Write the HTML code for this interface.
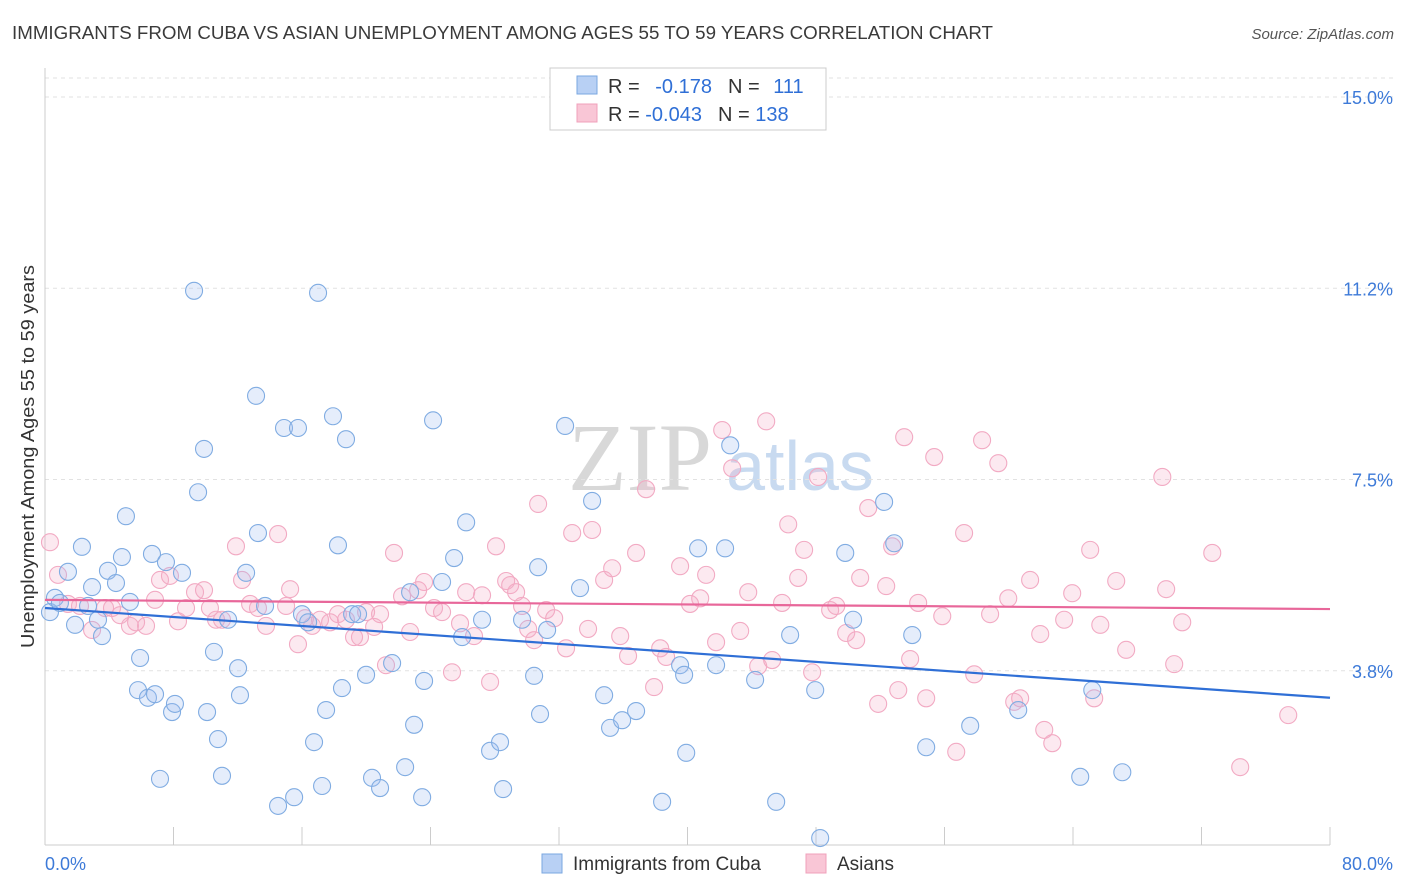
<!DOCTYPE html>
<html><head><meta charset="utf-8">
<style>
body{margin:0;background:#fff;font-family:"Liberation Sans",sans-serif;}
#wrap{position:relative;width:1406px;height:892px;overflow:hidden;}
</style></head>
<body><div id="wrap">
<svg id="chart" width="1406" height="892" xmlns="http://www.w3.org/2000/svg">
<text x="12" y="39" font-size="18" fill="#3a3a3a" textLength="981" lengthAdjust="spacingAndGlyphs">IMMIGRANTS FROM CUBA VS ASIAN UNEMPLOYMENT AMONG AGES 55 TO 59 YEARS CORRELATION CHART</text>
<text x="1394" y="39" font-size="15" fill="#555" text-anchor="end" font-style="italic">Source: ZipAtlas.com</text>
<text transform="translate(34,648) rotate(-90)" font-size="18" fill="#333" textLength="383" lengthAdjust="spacingAndGlyphs">Unemployment Among Ages 55 to 59 years</text>
<g>
<text x="640" y="490" font-size="96" fill="#d8d8d8" font-family="Liberation Serif,serif" text-anchor="middle">ZIP</text>
<text x="800" y="490" font-size="70" fill="#c8daf0" text-anchor="middle">atlas</text>
</g>
<g id="grid"></g><g id="axes"></g><g id="pts"></g><g id="trends"></g>
<g>
<rect x="550" y="68" width="276" height="62" fill="#fff" stroke="#ccc"/>
<rect x="577" y="76" width="20" height="18" fill="#b8d0f4" stroke="#7aa7e0"/>
<rect x="577" y="104" width="20" height="18" fill="#f9c6d6" stroke="#f0a0bb"/>
<text x="608" y="93" font-size="20" fill="#333">R = <tspan fill="#2f6fd6" dx="10">-0.178</tspan><tspan fill="#333" dx="16">N = </tspan><tspan fill="#2f6fd6" dx="8">111</tspan></text>
<text x="608" y="121" font-size="20" fill="#333">R = <tspan fill="#2f6fd6" dx="0">-0.043</tspan><tspan fill="#333" dx="16">N = </tspan><tspan fill="#2f6fd6" dx="0">138</tspan></text>
</g>
<g>
<rect x="542" y="854" width="20" height="19" fill="#b8d0f4" stroke="#7aa7e0"/>
<text x="573" y="870" font-size="19" fill="#333">Immigrants from Cuba</text>
<rect x="806" y="854" width="20" height="19" fill="#f9c6d6" stroke="#f0a0bb"/>
<text x="837" y="870" font-size="19" fill="#333">Asians</text>
</g>
</svg>
<script>
const yTicks=[3.75,7.5,11.25,15];
const yTickLabels=["3.8%","7.5%","11.2%","15.0%"];
const xTicks=[0,8,16,24,32,40,48,56,64,72,80];
const cubaX=[0.31,0.62,0.93,1.43,1.87,2.30,2.68,2.93,3.30,3.55,3.92,4.42,4.79,5.04,5.29,5.92,5.79,6.41,6.66,6.85,7.16,7.53,7.91,8.09,8.53,9.28,9.53,9.90,10.09,10.52,10.77,11.02,11.40,12.02,12.14,12.52,13.14,13.26,13.70,14.51,14.88,15.51,15.75,16.00,16.38,16.75,17.00,17.25,17.50,17.93,18.24,18.49,18.74,19.12,19.49,19.99,20.36,20.86,21.61,22.42,22.98,22.73,23.48,23.60,24.16,24.72,25.47,25.97,26.22,27.21,27.71,28.33,28.52,29.70,30.45,30.70,30.82,31.26,32.38,33.31,34.06,34.81,35.18,35.93,36.80,38.42,39.54,39.79,39.92,40.66,41.78,42.34,42.66,44.21,45.52,46.39,47.95,48.26,49.82,50.31,52.24,52.87,53.99,54.86,57.60,60.59,65.20,64.45,67.07,36.30];
const cubaY=[4.90,5.18,5.08,5.69,4.65,6.18,5.02,5.39,4.75,4.43,5.71,5.47,5.98,6.78,5.10,4.00,3.37,3.22,6.04,3.29,1.63,5.88,2.94,3.10,5.67,11.20,7.25,8.10,2.94,4.12,2.41,1.69,4.75,3.80,3.27,5.67,9.14,6.45,5.02,1.10,8.51,1.27,8.51,4.86,4.70,2.35,11.16,1.49,2.98,8.74,6.21,3.41,8.29,4.86,4.86,3.67,1.65,1.45,3.90,1.86,2.69,5.29,1.27,3.55,8.66,5.49,5.96,4.41,6.66,4.75,2.18,2.35,1.43,4.75,3.65,5.78,2.90,4.55,8.55,5.37,7.08,3.27,2.63,2.78,2.96,1.18,3.86,3.67,2.14,6.15,3.86,6.15,8.17,3.57,1.18,4.45,3.37,0.47,6.06,4.75,7.06,6.25,4.45,2.25,2.67,2.98,3.37,1.67,1.76,14.62];
const asianX=[0.31,0.81,1.43,2.18,2.93,3.74,4.17,4.67,5.29,5.67,6.29,6.85,7.16,7.78,8.28,8.78,9.34,9.90,10.27,10.65,11.02,11.89,12.27,12.77,13.26,13.76,14.51,15.01,15.26,15.75,16.19,16.63,17.12,17.75,18.24,18.74,19.24,19.61,19.99,20.49,20.86,21.23,21.73,22.23,22.73,23.23,23.60,24.22,24.72,25.34,25.84,26.22,26.71,27.21,27.71,28.08,28.71,28.96,29.33,29.70,30.08,30.45,30.70,31.20,31.70,32.44,32.82,33.81,34.06,34.81,35.31,35.81,36.30,36.80,37.42,37.92,38.30,38.67,39.54,40.16,40.79,41.16,41.78,42.16,42.78,43.28,43.78,44.40,44.90,45.27,45.89,46.27,46.89,47.26,47.76,48.13,48.88,49.26,49.88,50.50,50.75,51.25,51.87,52.37,52.74,53.12,53.49,53.86,54.36,54.86,55.36,55.86,56.73,57.22,57.85,58.34,58.84,59.35,59.97,60.34,60.71,61.33,61.96,62.21,62.71,63.45,63.95,65.07,65.32,65.70,66.69,67.31,69.56,69.80,70.30,70.80,72.67,74.41,77.40];
const asianY=[6.27,5.63,5.06,5.02,4.55,4.98,4.98,4.84,4.63,4.70,4.63,5.14,5.53,5.61,4.72,4.98,5.29,5.33,4.98,4.75,4.75,6.19,5.53,5.06,4.98,4.63,6.43,5.02,5.35,4.27,4.78,4.63,4.75,4.70,4.86,4.75,4.41,4.41,4.90,4.61,4.86,3.86,6.06,5.21,4.51,5.33,5.49,4.98,4.90,3.72,4.68,5.29,4.43,5.23,3.53,6.19,5.51,5.43,5.29,5.02,4.57,4.35,7.02,4.94,4.78,4.19,6.45,4.57,6.51,5.53,5.76,4.43,4.04,6.06,7.31,3.43,4.19,4.02,5.80,5.06,5.17,5.63,4.31,8.47,7.72,4.53,5.29,3.84,8.64,3.96,5.08,6.62,5.57,6.12,3.72,7.55,4.94,5.02,4.49,4.35,5.57,6.94,3.10,5.41,6.19,3.37,8.33,3.98,5.08,3.21,7.94,4.82,2.16,6.45,3.68,8.27,4.86,7.82,5.17,3.14,3.21,5.53,4.47,2.59,2.33,4.75,5.27,6.12,3.21,4.65,5.51,4.16,7.55,5.35,3.88,4.70,6.06,1.86,2.88];
const cubaTrend=[4.98,3.22];
const asianTrend=[5.14,4.96];
const NS="http://www.w3.org/2000/svg";
function sx(v){return 45+v/80*1285;}
function sy(v){return 862-v*51.0;}
function mk(tag,attrs,parent){const e=document.createElementNS(NS,tag);for(const k in attrs)e.setAttribute(k,attrs[k]);parent.appendChild(e);return e;}
const grid=document.getElementById('grid'),axes=document.getElementById('axes'),pts=document.getElementById('pts'),tr=document.getElementById('trends');
mk('line',{x1:45,x2:1394,y1:78,y2:78,stroke:'#e2e2e2','stroke-dasharray':'4,4'},grid);
yTicks.forEach((t,i)=>{
 const l=mk('line',{x1:45,x2:1394,y1:sy(t),y2:sy(t),stroke:'#e2e2e2','stroke-dasharray':'4,4'},grid);
 
 
 const tx=mk('text',{x:1393,y:sy(t)+7,'font-size':18,fill:'#3d7ad8','text-anchor':'end'},axes);
 tx.textContent=yTickLabels[i];
 
 
});
mk('line',{x1:45,x2:45,y1:68,y2:845,stroke:'#ccc'},axes);
mk('line',{x1:45,x2:1330,y1:845,y2:845,stroke:'#ccc'},axes);
xTicks.forEach(t=>{
 const l=mk('line',{x1:sx(t),x2:sx(t),y1:827,y2:845,stroke:'#ccc'},axes);
 
 
});
const x0=mk('text',{x:45,y:870,'font-size':18,fill:'#3d7ad8'},axes);x0.textContent=xTicks[0].toFixed(1)+'%';


const x1=mk('text',{x:1393,y:870,'font-size':18,fill:'#3d7ad8','text-anchor':'end'},axes);x1.textContent=xTicks[xTicks.length-1].toFixed(1)+'%';


asianX.forEach((v,i)=>{
 const c=mk('circle',{cx:sx(v),cy:sy(asianY[i]),r:8.5,fill:'rgba(246,176,200,0.28)',stroke:'#f2aac3','stroke-width':1.1},pts);
 
 
});
cubaX.forEach((v,i)=>{
 const c=mk('circle',{cx:sx(v),cy:sy(cubaY[i]),r:8.5,fill:'rgba(160,192,240,0.28)',stroke:'#80ace2','stroke-width':1.1},pts);
 
 
});
const t1=mk('line',{x1:sx(0),y1:sy(cubaTrend[0]),x2:sx(80),y2:sy(cubaTrend[1]),stroke:'#2f6fd6','stroke-width':2.2},tr);


const t2=mk('line',{x1:sx(0),y1:sy(asianTrend[0]),x2:sx(80),y2:sy(asianTrend[1]),stroke:'#e8679a','stroke-width':2.2},tr);


</script>
</div></body></html>
